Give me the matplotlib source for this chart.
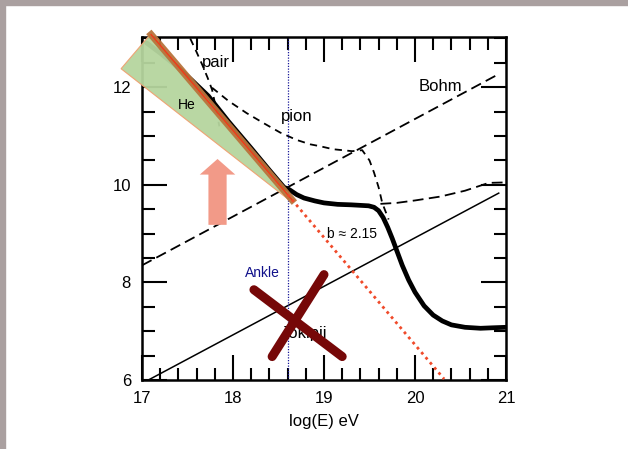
import numpy as np
import matplotlib
matplotlib.use("Agg")
import matplotlib.pyplot as plt
from matplotlib.patches import Polygon, FancyArrow, Rectangle

plt.rcParams['font.family'] = ['Liberation Sans', 'DejaVu Sans']

# curves (x = log E, y = log value)
total_x = [17.05, 17.2, 17.38, 17.55, 17.73, 17.95, 18.2, 18.4, 18.56, 18.62, 18.7,
           18.78, 18.9, 19.0, 19.15, 19.3, 19.49, 19.55, 19.6, 19.65, 19.7, 19.75,
           19.8, 19.86, 19.93, 20.0, 20.1, 20.2, 20.3, 20.4, 20.55, 20.72, 20.85, 21.0]
total_y = [12.91, 12.7, 12.43, 12.14, 11.82, 11.3, 10.75, 10.3, 9.95, 9.9, 9.8,
           9.73, 9.67, 9.63, 9.6, 9.59, 9.57, 9.54, 9.47, 9.33, 9.13, 8.9,
           8.65, 8.35, 8.05, 7.8, 7.52, 7.33, 7.21, 7.13, 7.08, 7.06, 7.07, 7.08]

pair_x = [17.53, 17.6, 17.66, 17.72, 17.77, 17.81, 17.85]
pair_y = [13.0, 12.72, 12.47, 12.2, 11.95, 11.6, 11.2]

pion_x = [17.77, 17.95, 18.15, 18.35, 18.52, 18.7, 18.85, 18.96, 19.1, 19.31, 19.42,
          19.5, 19.55, 19.6, 19.64, 19.71]
pion_y = [11.99, 11.72, 11.47, 11.25, 11.07, 10.92, 10.83, 10.79, 10.73, 10.69, 10.71,
          10.5, 10.25, 9.95, 9.63, 9.29]

high_x = [19.62, 19.8, 20.0, 20.28, 20.55, 20.81, 21.0]
high_y = [9.61, 9.63, 9.68, 9.76, 9.88, 10.04, 10.05]

bohm_x = [17.0, 20.92]
bohm_y = [8.35, 12.27]

jok_x = [17.07, 20.92]
jok_y = [6.0, 9.83]

ankle = 18.6
slope_x = [18.6, 20.32]
slope_y = [9.8, 6.02]
fit_x = [17.1, 18.65]
fit_y = [13.08, 9.69]
wedge = [(16.77, 12.38), (17.09, 13.08), (18.61, 9.7)]
cross1 = [(18.23, 7.85), (19.2, 6.48)]
cross2 = [(18.43, 6.48), (19.0, 8.16)]

fig = plt.figure(figsize=(6.28, 4.49), dpi=100)
fig.patch.set_facecolor('white')
# grey frame strips at left and top
fig.add_artist(Rectangle((0, 0), 5 / 628, 1, transform=fig.transFigure,
                         color='#aaa0a0', zorder=0))
fig.add_artist(Rectangle((0, 1 - 5 / 449), 1, 5 / 449, transform=fig.transFigure,
                         color='#aaa0a0', zorder=0))

ax = fig.add_axes([142 / 628, 69 / 449, 364 / 628, 343 / 449])
ax.set_xlim(17, 21)
ax.set_ylim(6, 13.03)

ax.plot(total_x, total_y, color='black', lw=3.4, solid_capstyle='round',
        solid_joinstyle='round', zorder=3)
ax.plot(pair_x, pair_y, color='black', lw=1.3, ls=(0, (4, 3)))
ax.plot(pion_x, pion_y, color='black', lw=1.3, ls=(0, (4, 3)))
ax.plot(high_x, high_y, color='black', lw=1.3, ls=(0, (6, 3)))
ax.plot(bohm_x, bohm_y, color='black', lw=1.3, ls=(0, (6, 3)))
ax.plot(jok_x, jok_y, color='black', lw=1.1)
ax.axvline(ankle, color='#1a1a9a', lw=0.9, ls=(0, (1, 1.2)))

ax.add_patch(Polygon(wedge, closed=True, facecolor='#b5d59e', edgecolor='#f0a070',
                     lw=0.8, alpha=0.95, clip_on=False, zorder=4))
ax.plot(fit_x, fit_y, color='#b8743c', lw=5, alpha=0.95, clip_on=False, zorder=5)
ax.plot(fit_x, fit_y, color='#f03a1a', lw=1.0, clip_on=False, zorder=6)
ax.plot(slope_x, slope_y, color='#f04a2a', lw=2.0, ls=(0, (1, 1.4)), zorder=6)

ax.add_patch(FancyArrow(17.83, 9.18, 0, 1.03, width=0.2, head_width=0.39,
                        head_length=0.32, length_includes_head=False,
                        color='#f29a88', lw=0, zorder=2))

for seg in (cross1, cross2):
    ax.plot([seg[0][0], seg[1][0]], [seg[0][1], seg[1][1]], color='#760808',
            lw=6.5, solid_capstyle='round', zorder=7)

ax.text(17.66, 12.5, 'pair', fontsize=12, ha='left', va='center')
ax.text(18.7, 11.4, 'pion', fontsize=12, ha='center', va='center')
ax.text(20.28, 12.02, 'Bohm', fontsize=12, ha='center', va='center')
ax.text(18.78, 6.96, 'Jokipii', fontsize=12, ha='center', va='center')
ax.text(17.49, 11.63, 'He', fontsize=10, ha='center', va='center', zorder=8)
ax.text(19.31, 8.99, 'b ≈ 2.15', fontsize=10, ha='center', va='center')
ax.text(18.32, 8.19, 'Ankle', fontsize=10, color='#10108a', ha='center', va='center')

ax.set_xticks([17, 18, 19, 20, 21])
ax.set_xticks(np.arange(17, 21.01, 0.2), minor=True)
ax.set_yticks([6, 8, 10, 12])
ax.set_yticks(np.arange(6, 13.01, 0.5), minor=True)
ax.tick_params(which='both', direction='in', top=True, right=True, width=1.5,
               labelsize=12, pad=8)
ax.tick_params(which='major', length=18)
ax.tick_params(which='minor', length=9)
for s in ax.spines.values():
    s.set_linewidth(1.8)
ax.set_xlabel('log(E) eV', fontsize=12, labelpad=6)

fig.savefig('out.png', dpi=100)
